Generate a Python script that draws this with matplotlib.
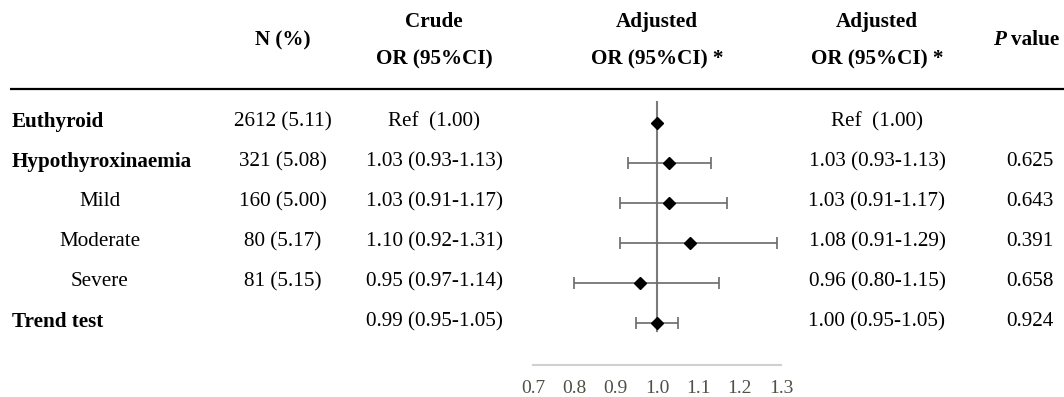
import matplotlib
matplotlib.use("Agg")
import matplotlib.pyplot as plt

plt.rcParams['font.family'] = ['Liberation Serif', 'DejaVu Serif']

# ---- data ----
row_labels = ["Euthyroid", "Hypothyroxinaemia", "Mild", "Moderate", "Severe", "Trend test"]
row_bold = [True, True, False, False, False, True]
n_pct = ["2612 (5.11)", "321 (5.08)", "160 (5.00)", "80 (5.17)", "81 (5.15)", ""]
crude_or = ["Ref  (1.00)", "1.03 (0.93-1.13)", "1.03 (0.91-1.17)", "1.10 (0.92-1.31)",
            "0.95 (0.97-1.14)", "0.99 (0.95-1.05)"]
adj_or_text = ["Ref  (1.00)", "1.03 (0.93-1.13)", "1.03 (0.91-1.17)", "1.08 (0.91-1.29)",
               "0.96 (0.80-1.15)", "1.00 (0.95-1.05)"]
p_values = ["", "0.625", "0.643", "0.391", "0.658", "0.924"]
adj_or = [1.00, 1.03, 1.03, 1.08, 0.96, 1.00]
adj_lo = [None, 0.93, 0.91, 0.91, 0.80, 0.95]
adj_hi = [None, 1.13, 1.17, 1.29, 1.15, 1.05]
x_ticks = [0.7, 0.8, 0.9, 1.0, 1.1, 1.2, 1.3]
x_ticklabels = ["0.7", "0.8", "0.9", "1.0", "1.1", "1.2", "1.3"]

W, H = 1064, 397
fig = plt.figure(figsize=(W / 100, H / 100), dpi=100)

# row coordinate: row i at pixel 123 + 40*i
def py(p):
    return (p - 123) / 40.0

# ---- text / table axes covering entire figure ----
tax = fig.add_axes([0, 0, 1, 1])
tax.set_xlim(0, W)
tax.set_ylim(py(H), py(0))
tax.axis('off')

FS = 15.2
hdr_y1, hdr_y2, hdr_mid = py(22), py(59), py(40)
tax.text(283, hdr_mid, "N (%)", ha='center', va='center', fontsize=FS, fontweight='bold')
tax.text(434, hdr_y1, "Crude", ha='center', va='center', fontsize=FS, fontweight='bold')
tax.text(434, hdr_y2, "OR (95%CI)", ha='center', va='center', fontsize=FS, fontweight='bold')
tax.text(657, hdr_y1, "Adjusted", ha='center', va='center', fontsize=FS, fontweight='bold')
tax.text(657, hdr_y2, "OR (95%CI) *", ha='center', va='center', fontsize=FS, fontweight='bold')
tax.text(877, hdr_y1, "Adjusted", ha='center', va='center', fontsize=FS, fontweight='bold')
tax.text(877, hdr_y2, "OR (95%CI) *", ha='center', va='center', fontsize=FS, fontweight='bold')
tax.text(1006, hdr_mid, "P", ha='right', va='center', fontsize=FS, fontweight='bold', style='italic')
tax.text(1011, hdr_mid, "value", ha='left', va='center', fontsize=FS, fontweight='bold')
tax.plot([10, W], [py(88.5), py(88.5)], color='black', lw=1.6, solid_capstyle='butt')

for i, lab in enumerate(row_labels):
    y = i - 0.03
    if row_bold[i]:
        tax.text(12, y, lab, ha='left', va='center', fontsize=FS, fontweight='bold')
    else:
        tax.text(100, y, lab, ha='center', va='center', fontsize=FS)
    tax.text(283, y, n_pct[i], ha='center', va='center', fontsize=FS)
    tax.text(434, y, crude_or[i], ha='center', va='center', fontsize=FS)
    tax.text(877, y, adj_or_text[i], ha='center', va='center', fontsize=FS)
    tax.text(1030, y, p_values[i], ha='center', va='center', fontsize=FS)

# ---- forest axes ----
left_px, right_px = 533, 781
top_px, bot_px = 95, 365
fax = fig.add_axes([left_px / W, 1 - bot_px / H, (right_px - left_px) / W, (bot_px - top_px) / H])
fax.set_xlim(0.7, 1.3)
fax.set_ylim(py(bot_px), py(top_px))
fax.patch.set_alpha(0)
for s in ['top', 'right', 'left']:
    fax.spines[s].set_visible(False)
fax.spines['bottom'].set_color('#d0d0d0')
fax.spines['bottom'].set_linewidth(1.5)
fax.set_yticks([])
fax.set_xticks(x_ticks)
fax.set_xticklabels(x_ticklabels, fontsize=14, color='#505045')
fax.tick_params(axis='x', length=0, pad=11)

fax.plot([1.0, 1.0], [py(102), py(331)], color='#7a7a7a', lw=1.5, zorder=1)
for i in range(len(adj_or)):
    if adj_lo[i] is not None:
        fax.errorbar(adj_or[i], i, xerr=[[adj_or[i] - adj_lo[i]], [adj_hi[i] - adj_or[i]]],
                     fmt='none', ecolor='#6a6a6a', elinewidth=1.2, capsize=4, capthick=1.2, zorder=2)
    fax.plot(adj_or[i], i, marker='D', color='black', markersize=6.2, zorder=3, linestyle='none')

fig.savefig("out.png", dpi=100)
